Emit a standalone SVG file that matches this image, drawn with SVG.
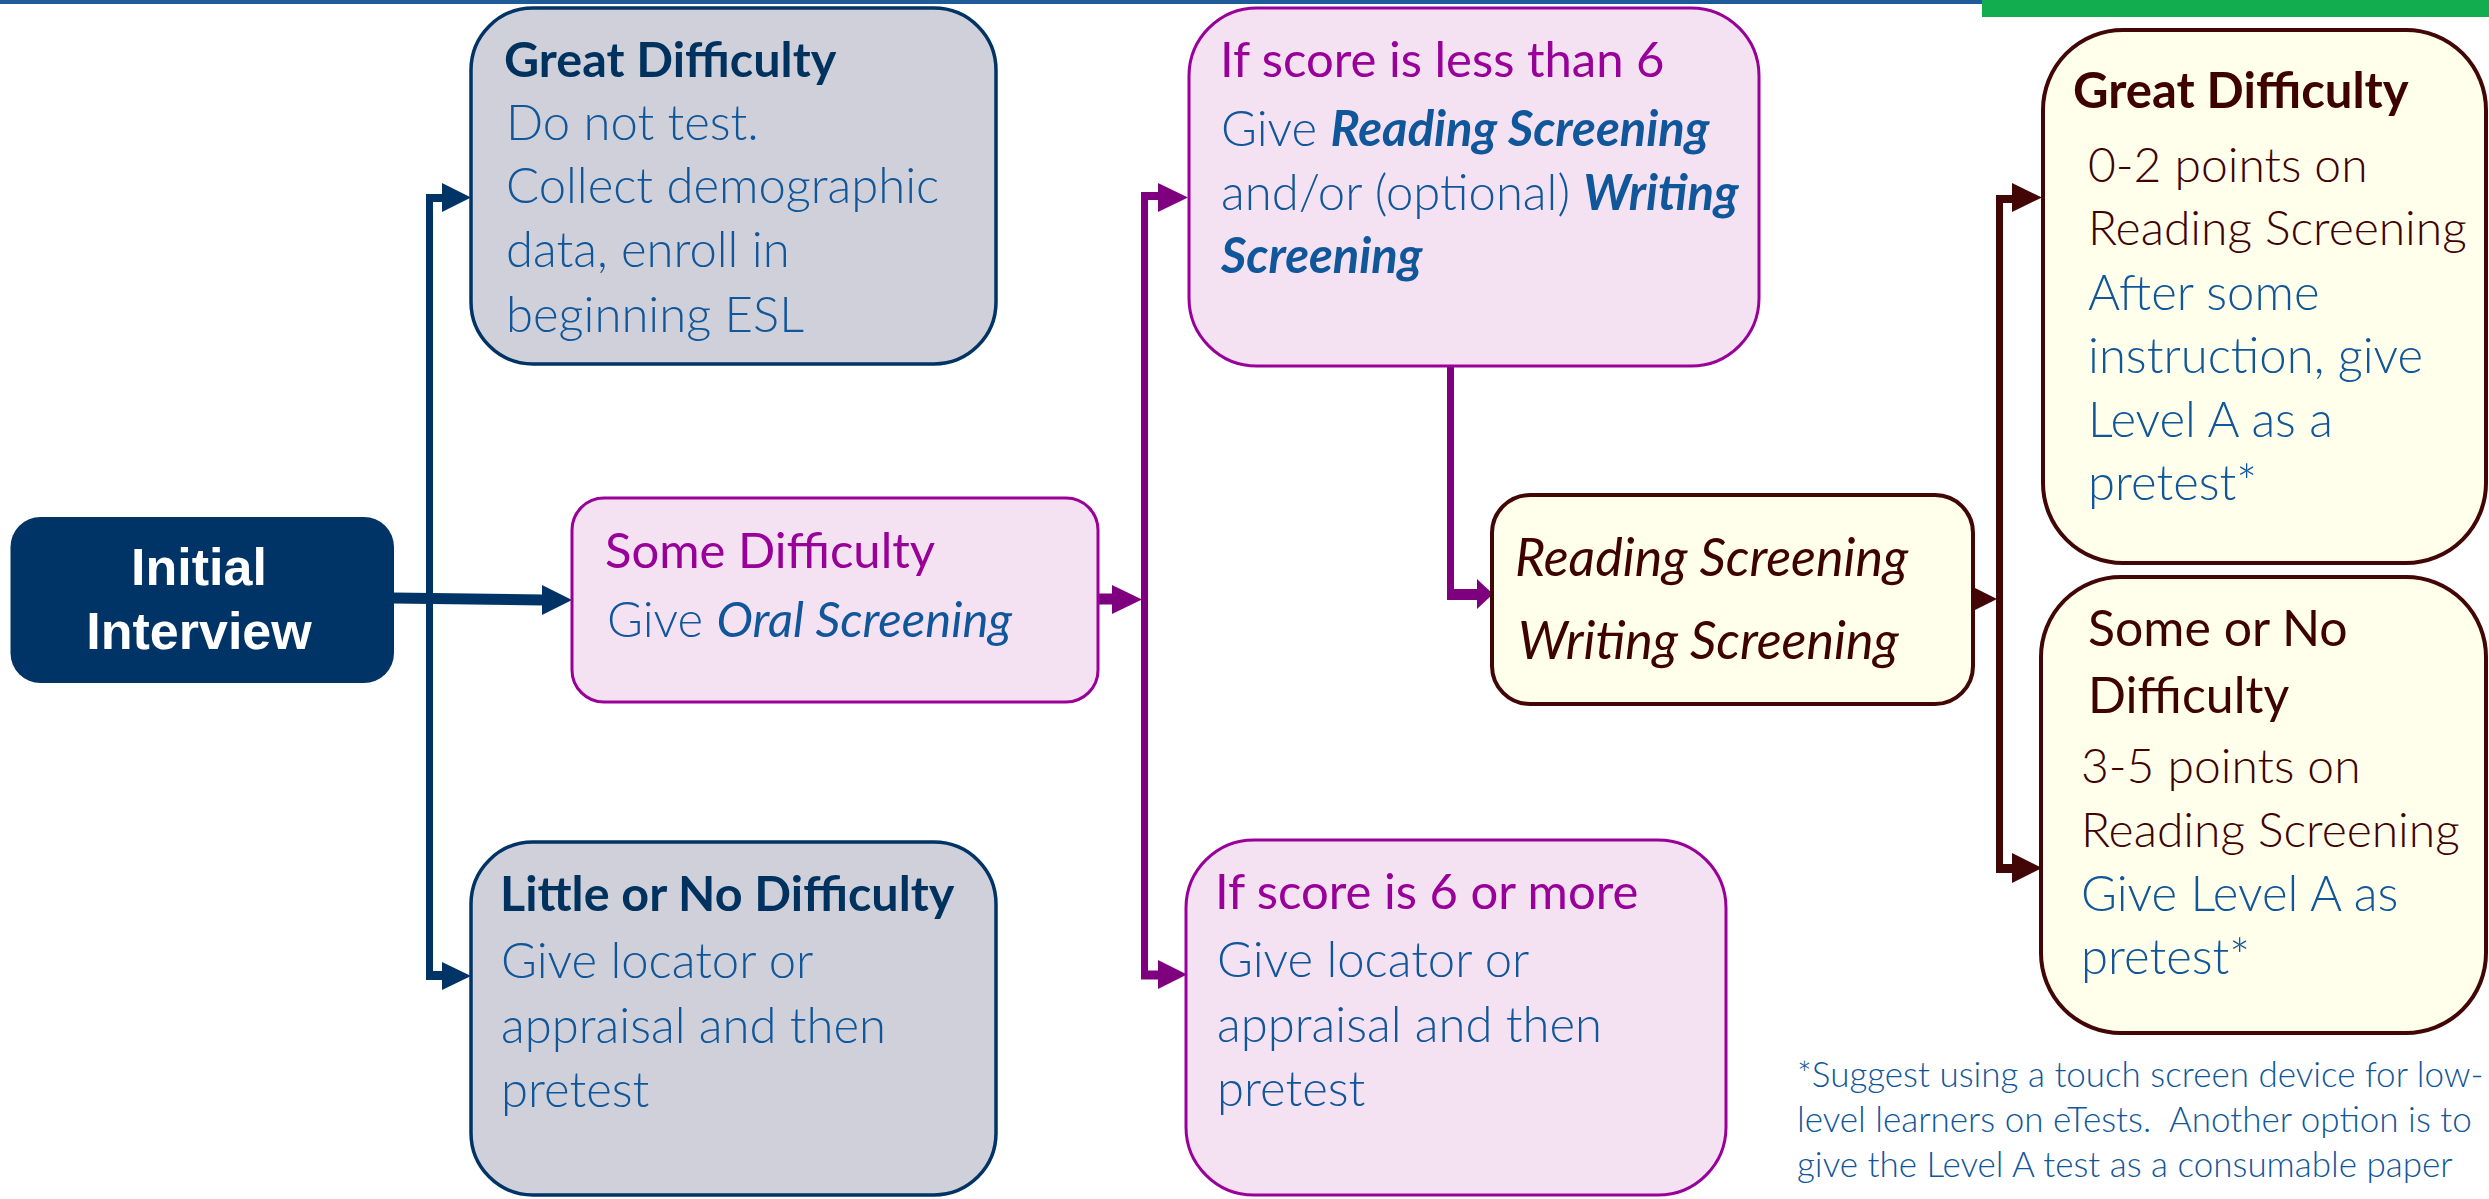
<svg xmlns="http://www.w3.org/2000/svg" width="2489" height="1199" viewBox="0 0 2489 1199">
<style>
text{font-family:Lato,"Open Sans","Liberation Sans",sans-serif}
.init{font-family:"Liberation Sans",Arial,sans-serif;font-weight:700;font-size:52px;fill:#ffffff;text-anchor:middle}
.tn{font-weight:700;font-size:48.5px;fill:#00325f}
.tp{font-weight:400;font-size:49px;fill:#990099}
.tm{font-weight:700;font-size:49px;fill:#3f0202}
.tmr{font-weight:400;font-size:50px;fill:#3f0202}
.b{font-weight:300;font-size:49px;fill:#10569a}
.bm{font-weight:300;font-size:48px;fill:#3f0202}
.it{font-style:italic;font-weight:400}
.bi{font-style:italic;font-weight:700}
.rs{font-style:italic;font-weight:400;font-size:52px;fill:#3f0202}
.fn{font-weight:300;font-size:35px;fill:#10569a}
.grey{fill:#cfd0d9;stroke:#003366;stroke-width:3.5}
.pink{fill:#f4e1f2;stroke:#990099;stroke-width:3}
.cream{fill:#ffffeb;stroke:#420606;stroke-width:4}
.ln{fill:none;stroke:#003366}
.lp{fill:none;stroke:#7f007f}
.lm{fill:none;stroke:#420606}
</style>
<rect x="0" y="0" width="1982" height="4" fill="#1f5b98"/>
<rect x="1982" y="0" width="507" height="17" fill="#11ad4e"/>
<g id="connectors">
  <!-- navy -->
  <path class="ln" stroke-width="11" d="M393 598 L543 600"/>
  <polygon fill="#003366" points="542,585 572,600 542,615"/>
  <path class="ln" stroke-width="7" d="M429.5 194 V979"/>
  <path class="ln" stroke-width="8" d="M426 198 H443"/>
  <polygon fill="#003366" points="442,183 471,197.5 442,212"/>
  <path class="ln" stroke-width="9" d="M426 975.5 H443"/>
  <polygon fill="#003366" points="442,962 471,976 442,990"/>
  <!-- purple -->
  <path class="lp" stroke-width="11" d="M1098 599 H1113"/>
  <polygon fill="#7f007f" points="1112,585 1142,599.5 1112,614"/>
  <path class="lp" stroke-width="7" d="M1144.5 193 V979"/>
  <path class="lp" stroke-width="8" d="M1141 196 H1159"/>
  <polygon fill="#7f007f" points="1158,183 1188,197.5 1158,212"/>
  <path class="lp" stroke-width="9" d="M1141 975 H1159"/>
  <polygon fill="#7f007f" points="1158,960 1187,974.5 1158,989"/>
  <path class="lp" stroke-width="7" d="M1450.5 366 V600"/>
  <path class="lp" stroke-width="11" d="M1447 594.5 H1478"/>
  <polygon fill="#7f007f" points="1477,579 1493,594 1477,609"/>
  <!-- maroon -->
  <polygon fill="#420606" points="1973,587 1997,599 1973,611"/>
  <path class="lm" stroke-width="7" d="M1999.5 195 V873"/>
  <path class="lm" stroke-width="8" d="M1996 199 H2013"/>
  <polygon fill="#420606" points="2012,183 2042,197.5 2012,212"/>
  <path class="lm" stroke-width="9" d="M1996 868.5 H2013"/>
  <polygon fill="#420606" points="2012,853 2042,868 2012,883"/>
</g>
<g id="initial-interview">
  <rect x="10.5" y="517" width="383.5" height="166" rx="30" fill="#003366"/>
  <text class="init" x="199" y="585">Initial</text>
  <text class="init" x="199" y="649">Interview</text>
</g>
<g id="great-difficulty">
  <rect class="grey" x="471" y="8" width="525" height="356" rx="62"/>
  <text class="tn" x="504" y="77">Great Difficulty</text>
  <text class="b" x="506" y="140">Do not test.</text>
  <text class="b" x="506" y="203">Collect demographic</text>
  <text class="b" x="506" y="267">data, enroll in</text>
  <text class="b" x="506" y="332">beginning ESL</text>
</g>
<g id="some-difficulty">
  <rect class="pink" x="572" y="498" width="526" height="204" rx="32"/>
  <text class="tp" x="605" y="568">Some Difficulty</text>
  <text class="b" x="607" y="637">Give <tspan class="it">Oral Screening</tspan></text>
</g>
<g id="little-difficulty">
  <rect class="grey" x="471" y="842" width="525" height="353" rx="62"/>
  <text class="tn" x="500" y="911">Little or No Difficulty</text>
  <text class="b" x="501" y="978">Give locator or</text>
  <text class="b" x="501" y="1043">appraisal and then</text>
  <text class="b" x="501" y="1107">pretest</text>
</g>
<g id="score-less-6">
  <rect class="pink" x="1189" y="8" width="570" height="358" rx="68"/>
  <text class="tp" x="1220" y="77">If score is less than 6</text>
  <text class="b" x="1221" y="146">Give <tspan class="bi">Reading Screening</tspan></text>
  <text class="b" x="1221" y="210">and/or (optional) <tspan class="bi">Writing</tspan></text>
  <text class="b" x="1221" y="273"><tspan class="bi">Screening</tspan></text>
</g>
<g id="score-6-more">
  <rect class="pink" x="1186" y="840" width="540" height="355" rx="68"/>
  <text class="tp" x="1215" y="909">If score is 6 or more</text>
  <text class="b" x="1217" y="977">Give locator or</text>
  <text class="b" x="1217" y="1042">appraisal and then</text>
  <text class="b" x="1217" y="1106">pretest</text>
</g>
<g id="screenings">
  <rect class="cream" x="1492" y="495" width="481" height="209" rx="38"/>
  <text class="rs" x="1515" y="576">Reading Screening</text>
  <text class="rs" x="1518" y="659">Writing Screening</text>
</g>
<g id="great-difficulty-2">
  <rect class="cream" x="2043" y="30" width="443" height="533" rx="80"/>
  <text class="tm" x="2073" y="108">Great Difficulty</text>
  <text class="bm" x="2088" y="182">0-2 points on</text>
  <text class="bm" x="2088" y="245">Reading Screening</text>
  <text class="b" x="2088" y="310">After some</text>
  <text class="b" x="2088" y="373">instruction, give</text>
  <text class="b" x="2088" y="437">Level A as a</text>
  <text class="b" x="2088" y="500">pretest*</text>
</g>
<g id="some-or-no-difficulty">
  <rect class="cream" x="2041" y="577" width="445" height="456" rx="80"/>
  <text class="tmr" x="2088" y="646">Some or No</text>
  <text class="tmr" x="2088" y="713">Difficulty</text>
  <text class="bm" x="2081" y="783">3-5 points on</text>
  <text class="bm" x="2081" y="847">Reading Screening</text>
  <text class="b" x="2081" y="911">Give Level A as</text>
  <text class="b" x="2081" y="974">pretest*</text>
</g>
<g id="footnote">
  <text class="fn" x="1797" y="1087">*Suggest using a touch screen device for low-</text>
  <text class="fn" x="1797" y="1132" xml:space="preserve">level learners on eTests.  Another option is to</text>
  <text class="fn" x="1797" y="1177">give the Level A test as a consumable paper</text>
</g>
</svg>
